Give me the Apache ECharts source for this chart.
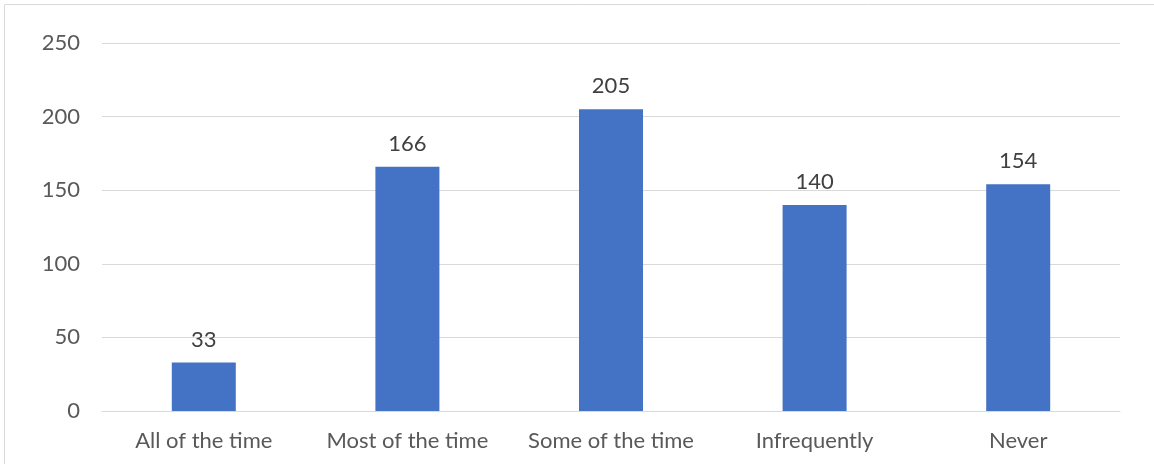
<!DOCTYPE html>
<html><head><meta charset="utf-8">
<script src="https://cdn.jsdelivr.net/npm/echarts@6/dist/echarts.min.js"></script>
<style>html,body{margin:0;padding:0;background:#fff}#c{width:1154px;height:464px}</style>
</head><body><div id="c"></div>
<script>
const categories = ["All of the time", "Most of the time", "Some of the time", "Infrequently", "Never"];
const values = [33, 166, 205, 140, 154];
const yTicks = [0, 50, 100, 150, 200, 250];

const FONT = "Lato";
const chart = echarts.init(document.getElementById('c'), null, {renderer: 'canvas'});
chart.setOption({
  animation: false,
  backgroundColor: '#ffffff',
  graphic: [{type: 'rect', shape: {x: 4.5, y: 4.5, width: 1200, height: 500}, style: {fill: 'none', stroke: '#d9d9d9', lineWidth: 1}, silent: true}],
  grid: {left: 102, right: 34, top: 43, bottom: 53, containLabel: false},
  xAxis: {
    type: 'category', data: categories,
    axisLine: {lineStyle: {color: '#d9d9d9', width: 1}},
    axisTick: {show: false},
    axisLabel: {color: '#595959', fontFamily: FONT, fontSize: 22, margin: 19, interval: 0, hideOverlap: false}
  },
  yAxis: {
    type: 'value', min: yTicks[0], max: yTicks[yTicks.length - 1], interval: 50,
    axisLine: {show: false}, axisTick: {show: false},
    splitLine: {lineStyle: {color: '#d9d9d9', width: 1}},
    axisLabel: {color: '#595959', fontFamily: FONT, fontSize: 22, margin: 22}
  },
  series: [{
    type: 'bar', data: values, barWidth: 64,
    itemStyle: {color: '#4472C4'},
    label: {show: true, position: 'top', distance: 12, color: '#404040', fontFamily: FONT, fontSize: 22}
  }]
});
</script></body></html>
